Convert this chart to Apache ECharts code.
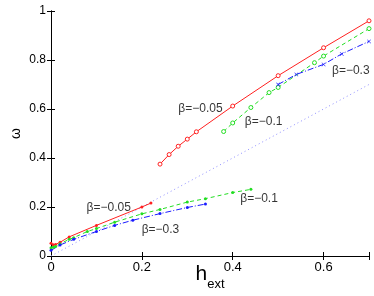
<!DOCTYPE html>
<html><head><meta charset="utf-8">
<script src="https://cdn.jsdelivr.net/npm/echarts@6/dist/echarts.min.js"></script>
<style>html,body{margin:0;padding:0;background:#fff}#c{width:374px;height:296px}</style>
</head><body><div id="c"></div>
<script>
// Data
const redUpH = [0.24, 0.26, 0.28, 0.30, 0.32, 0.40, 0.50, 0.60, 0.70];
const redUpW = [0.375, 0.414, 0.448, 0.477, 0.507, 0.612, 0.736, 0.850, 0.960];
const redLoH = [0, 0.005, 0.01, 0.02, 0.04, 0.10, 0.20, 0.22];
const redLoW = [0.052, 0.046, 0.047, 0.056, 0.078, 0.125, 0.200, 0.216];
const greenUpH = [0.38, 0.40, 0.44, 0.48, 0.50, 0.58, 0.60, 0.70];
const greenUpW = [0.508, 0.543, 0.606, 0.667, 0.688, 0.789, 0.816, 0.928];
const greenLoH = [0, 0.005, 0.01, 0.02, 0.04, 0.05, 0.08, 0.10, 0.14, 0.20, 0.24, 0.30, 0.34, 0.40, 0.44];
const greenLoW = [0.034, 0.036, 0.039, 0.050, 0.068, 0.075, 0.100, 0.112, 0.138, 0.172, 0.190, 0.220, 0.234, 0.259, 0.272];
const blueUpH = [0.50, 0.54, 0.60, 0.64, 0.70];
const blueUpW = [0.700, 0.741, 0.782, 0.825, 0.876];
const blueLoH = [0, 0.02, 0.05, 0.10, 0.14, 0.18, 0.24, 0.30, 0.34];
const blueLoW = [0.023, 0.045, 0.068, 0.100, 0.125, 0.146, 0.173, 0.198, 0.212];
const refH = [0, 0.7];
const refW = [0, 0.7];
const xTicks = ['0', '0.2', '0.4', '0.6'];
const yTicks = ['0', '0.2', '0.4', '0.6', '0.8', '1'];
const annText = ['β=−0.05', 'β=−0.1', 'β=−0.3', 'β=−0.05', 'β=−0.3', 'β=−0.1'];
const annH = [0.329, 0.468, 0.660, 0.127, 0.241, 0.458];
const annW = [0.600, 0.550, 0.755, 0.199, 0.109, 0.232];

const pairs = (a, b) => a.map((v, i) => [v, b[i]]);
const RED = '#ff2020', GREEN = '#22dd22', BLUE = '#1a1aff';
const XSYM = 'path://M0,1L1,0L5,4L9,0L10,1L6,5L10,9L9,10L5,6L1,10L0,9L4,5Z';

function mk(name, h, w, color, type, symbol, size, empty) {
  return {
    name, type: 'line', xAxisIndex: 0, yAxisIndex: 0,
    data: pairs(h, w), symbol, symbolSize: size, showSymbol: true,
    lineStyle: { color, width: 1, type },
    itemStyle: empty ? { color: '#fff', borderColor: color, borderWidth: 1 } : { color, borderColor: color, borderWidth: 0 },
    z: 3, animation: false
  };
}

const chart = echarts.init(document.getElementById('c'), null, { renderer: 'canvas' });
const axisCommon = {
  axisLine: { show: true, lineStyle: { color: '#000', width: 1 } },
  axisTick: { show: true, inside: true, length: 4, lineStyle: { color: '#000' } },
  splitLine: { show: false },
  nameMoveOverlap: false,
};
chart.setOption({
  animation: false,
  grid: { left: 51, right: 5, top: 11, bottom: 40, containLabel: false, outerBoundsMode: 'none' },
  xAxis: [
    Object.assign({}, axisCommon, {
      type: 'value', min: 0, max: 0.7, interval: 0.2,
      axisLabel: { color: '#000', fontSize: 13, fontFamily: 'Liberation Sans, Arial', margin: 5,
        formatter: v => { const s = xTicks.find(t => Math.abs(parseFloat(t) - v) < 1e-6); return s === undefined ? '' : s; } },
      name: '{h|h}{s|ext}', nameLocation: 'middle', nameGap: 8,
      nameTextStyle: { verticalAlign: 'top', rich: {
        h: { fontSize: 21, fontFamily: 'Liberation Sans, Arial', color: '#000', verticalAlign: 'top' },
        s: { fontSize: 13, fontFamily: 'Liberation Sans, Arial', color: '#000', verticalAlign: 'bottom', padding: [14, 0, 0, 0] } } }
    }),
    Object.assign({}, axisCommon, { type: 'value', position: 'top', min: 0, max: 0.7, interval: 0.2, axisLabel: { show: false } })
  ],
  yAxis: [
    Object.assign({}, axisCommon, {
      type: 'value', min: 0, max: 1, interval: 0.2,
      axisLabel: { color: '#000', fontSize: 12, fontFamily: 'Liberation Sans, Arial', margin: 5,
        formatter: v => { const s = yTicks.find(t => Math.abs(parseFloat(t) - v) < 1e-6); return s === undefined ? '' : s; } },
      name: 'ω', nameLocation: 'middle', nameGap: 28, nameRotate: 90,
      nameTextStyle: { fontSize: 14, color: '#000', fontFamily: 'Liberation Sans, Arial' }
    }),
    Object.assign({}, axisCommon, { type: 'value', position: 'right', min: 0, max: 1, interval: 0.2, axisLabel: { show: false } })
  ],
  series: [
    { name: 'ref', type: 'line', data: pairs(refH, refW), symbol: 'none',
      lineStyle: { color: '#8f8fff', width: 1, type: [1, 3] }, z: 2 },
    mk('redUp', redUpH, redUpW, RED, 'solid', 'circle', 4, true),
    mk('redLo', redLoH, redLoW, RED, 'solid', 'circle', 3, false),
    mk('greenUp', greenUpH, greenUpW, GREEN, [4, 3], 'circle', 4, true),
    mk('greenLo', greenLoH, greenLoW, GREEN, [4, 3], 'circle', 3, false),
    mk('blueUp', blueUpH, blueUpW, BLUE, [6, 2, 1, 2], XSYM, 4, false),
    mk('blueLo', blueLoH, blueLoW, BLUE, [6, 2, 1, 2], 'circle', 3, false),
    { name: 'ann', type: 'scatter', symbol: 'circle', symbolSize: 1,
      itemStyle: { color: 'rgba(0,0,0,0)' },
      data: annH.map((h, i) => ({ value: [h, annW[i]], label: { show: true, formatter: annText[i] } })),
      label: { show: true, position: 'inside', color: '#000', fontSize: 12, fontFamily: 'Liberation Sans, Arial' }, z: 5 }
  ]
});
</script></body></html>
